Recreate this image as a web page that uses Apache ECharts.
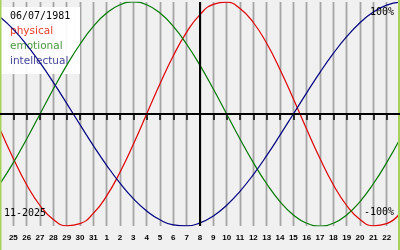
<!DOCTYPE html>
<html><head><meta charset="utf-8">
<script src="https://cdn.jsdelivr.net/npm/echarts@6/dist/echarts.min.js"></script>
<style>html,body{margin:0;padding:0;background:#f0f0f0}#c{width:400px;height:250px}</style>
</head><body><div id="c"></div>
<script>
var days = ['24','25','26','27','28','29','30','31','1','2','3','4','5','6','7','8','9','10','11','12','13','14','15','16','17','18','19','20','21','22','23'];
var physical = [-0.136,-0.398,-0.631,-0.817,-0.942,-0.998,-0.979,-0.888,-0.731,-0.520,-0.270,0,0.270,0.520,0.731,0.888,0.979,0.998,0.942,0.817,0.631,0.398,0.136,-0.136,-0.398,-0.631,-0.817,-0.942,-0.998,-0.979,-0.888];
var emotional = [-0.623,-0.434,-0.223,0,0.223,0.434,0.623,0.782,0.901,0.975,1,0.975,0.901,0.782,0.623,0.434,0.223,0,-0.223,-0.434,-0.623,-0.782,-0.901,-0.975,-1,-0.975,-0.901,-0.782,-0.623,-0.434,-0.223];
var intellectual = [0.866,0.756,0.618,0.458,0.282,0.095,-0.095,-0.282,-0.458,-0.618,-0.756,-0.866,-0.945,-0.990,-0.999,-0.972,-0.910,-0.815,-0.690,-0.541,-0.372,-0.189,0,0.189,0.372,0.541,0.690,0.815,0.910,0.972,0.999];
var today = '8';
var birthDate = '06/07/1981';
var monthLabel = '11-2025';
var names = ['physical','emotional','intellectual'];

var chart = echarts.init(document.getElementById('c'));
var inner = function(i){ return i > 0 && i < days.length - 1; };
var mono = '"DejaVu Sans Mono", monospace';
chart.setOption({
  animation: false,
  backgroundColor: '#f0f0f0',
  grid: {left: 0, right: 0, top: 2, bottom: 24},
  xAxis: [{
    type: 'category', data: days, boundaryGap: false,
    axisLine: {show: false},
    axisTick: {show: true, interval: inner, length: 6, lineStyle: {color: '#000', width: 1.5}},
    axisLabel: {interval: inner, margin: 8, fontSize: 8, fontWeight: 'bold', color: '#000', fontFamily: '"Liberation Sans", sans-serif'},
    splitLine: {show: true, interval: inner, lineStyle: {color: '#d2d2d2', width: 3}}
  }, {
    type: 'category', data: days, boundaryGap: false, position: 'bottom',
    axisLine: {show: false}, axisTick: {show: false}, axisLabel: {show: false},
    splitLine: {show: true, interval: inner, lineStyle: {color: '#a4a4a4', width: 1}}
  }],
  yAxis: {type: 'value', min: -1, max: 1, show: false, splitLine: {show: false}},
  series: [
    {name: names[0], type: 'line', data: physical, smooth: true, symbol: 'none', lineStyle: {color: '#e00000', width: 1.2}, z: 3,
     markLine: {silent: true, symbol: 'none', label: {show: false}, lineStyle: {color: '#000', width: 2, type: 'solid'},
       data: [{yAxis: 0}, {xAxis: today}]}},
    {name: names[1], type: 'line', data: emotional, smooth: true, symbol: 'none', lineStyle: {color: '#007a00', width: 1.2}, z: 3},
    {name: names[2], type: 'line', data: intellectual, smooth: true, symbol: 'none', lineStyle: {color: '#000080', width: 1.2}, z: 3}
  ],
  graphic: [
    {type: 'rect', z: 1, shape: {x: 0, y: 7, width: 80, height: 67}, style: {fill: 'rgba(255,255,255,0.92)'}},
    {type: 'rect', z: 5, shape: {x: 0, y: 0, width: 1.5, height: 250}, style: {fill: '#a6d25c'}},
    {type: 'rect', z: 5, shape: {x: 398, y: 0, width: 2, height: 250}, style: {fill: '#a6d25c'}},
    {type: 'text', z: 1, left: 10, top: 11, style: {text: birthDate, fill: '#000', font: '10px ' + mono}},
    {type: 'text', z: 1, left: 10, top: 26, style: {text: names[0], fill: '#e8402c', font: '10.5px "DejaVu Sans"'}},
    {type: 'text', z: 1, left: 10, top: 41, style: {text: names[1], fill: '#4a9a40', font: '10.5px "DejaVu Sans"'}},
    {type: 'text', z: 1, left: 10, top: 56, style: {text: names[2], fill: '#46469a', font: '10.5px "DejaVu Sans"'}},
    {type: 'text', z: 4, left: 370, top: 7, style: {text: '100%', fill: '#000', font: '10px ' + mono}},
    {type: 'text', z: 4, left: 364, top: 207, style: {text: '-100%', fill: '#000', font: '10px ' + mono}},
    {type: 'text', z: 4, left: 4, top: 208, style: {text: monthLabel, fill: '#000', font: '10px ' + mono}}
  ]
});
</script></body></html>
